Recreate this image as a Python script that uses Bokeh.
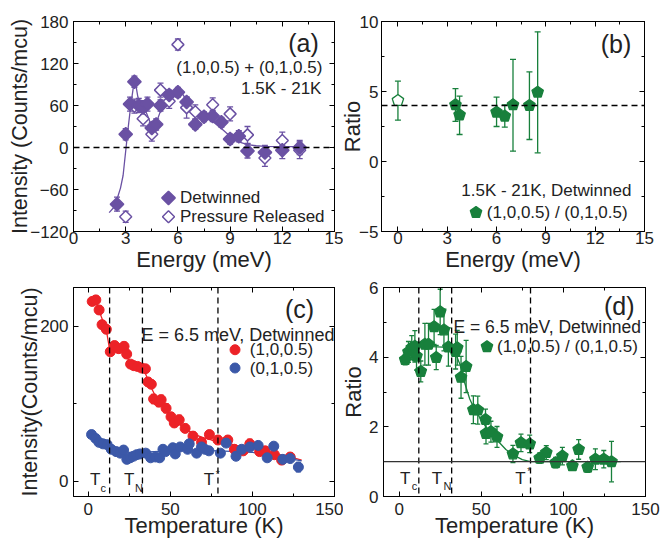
from bokeh.plotting import figure
from bokeh.models import (Range1d, LinearAxis, SingleIntervalTicker, FixedTicker,
                          Span, Label, ColumnDataSource)
from bokeh.layouts import row, column
from bokeh.embed import file_html
from bokeh.resources import INLINE

FONT = "Liberation Sans"
TXT = "#222222"
PURPLE = "#6a51a3"
RED = "#ec2227"
BLUE = "#3b58a8"
GREEN = "#18803c"
QUARTER = 0.7853982

# ---------------- data: panel (a) ----------------
det_E = [2.5, 3.0, 3.25, 3.5, 3.75, 4.0, 4.25, 4.5, 4.75, 5.0, 5.5, 6.0, 6.5, 7.0, 7.5, 8.0, 8.5, 9.0, 9.5, 10.0, 11.0, 12.0, 13.0]
det_I = [-81, 19, 62, 94, 60, 57, 62, 28, 33, 60, 75, 79, 65, 33, 44, 45, 36, 12, 16, -5, -7, -4, 0]
det_err = [10, 8, 10, 8, 10, 10, 10, 8, 8, 8, 7, 7, 7, 7, 7, 8, 7, 7, 8, 10, 10, 12, 10]
pr_E = [3.0, 3.5, 4.0, 4.5, 5.0, 5.5, 6.0, 6.5, 7.0, 8.0, 9.0, 10.0, 11.0, 12.0, 13.0]
pr_I = [-99, 59, 41, 19, 82, 66, 147, 57, 51, 61, 48, 18, -15, 10, -4]
pr_err = [8, 10, 10, 10, 10, 10, 8, 15, 10, 10, 10, 12, 12, 12, 12]
fit_a_E = [2.05, 2.3, 2.5, 2.7, 2.85, 3.0, 3.15, 3.3, 3.45, 3.55, 3.7, 3.9, 4.1, 4.3, 4.5, 4.75, 5.0, 5.25, 5.5, 5.75, 6.0, 6.25, 6.5, 6.75, 7.0, 7.5, 8.0, 8.5, 9.0, 9.5, 10.0, 10.5, 11.0, 12.0, 13.0]
fit_a_I = [-93, -86, -74, -58, -40, -5, 30, 62, 88, 94, 72, 60, 55, 43, 30, 35, 52, 66, 75, 79, 80, 77, 68, 58, 50, 43, 37, 27, 16, 8, 4, 2.5, 1.5, 1.2, 1.2]

# ---------------- data: panel (b) ----------------
rat_E = [3.5, 3.75, 6.0, 6.5, 7.0, 8.0, 8.5]
rat_R = [4.05, 3.33, 3.52, 3.24, 4.05, 4.0, 4.95]
rat_lo = [2.86, 1.93, 2.5, 2.45, 0.74, 1.57, 0.62]
rat_hi = [5.2, 4.67, 4.6, 4.05, 7.29, 6.4, 9.26]
pr_rat_E = [0.0]
pr_rat_R = [4.36]
pr_rat_lo = [2.95]
pr_rat_hi = [5.74]
ratio_ref = 4.0

# ---------------- data: panel (c) ----------------
red_T = [2.4, 4.6, 6.6, 8.4, 11.0, 13.4, 16.0, 18.6, 21.8, 23.4, 25.8, 27.8, 30.0, 32.4, 34.8, 36.4, 38.4, 39.8, 43.0, 44.4, 47.4, 50.4, 52.4, 55.4, 59.0, 63.8, 69.0, 73.8, 79.0, 85.0, 89.0, 94.4, 98.4, 104.4, 107.8, 113.4, 117.8, 123.0]
red_I = [232, 234, 221, 202, 196, 167, 175, 171, 174, 164, 151, 149, 148, 146, 145, 128, 125, 106, 102, 105, 94, 83, 75, 79, 68, 58, 50, 60, 53, 53, 41, 39, 48, 38, 39, 34, 27, 31]
red_err = [5, 5, 5, 5, 5, 5, 5, 5, 5, 5, 4, 4, 4, 4, 4, 5, 5, 6, 6, 6, 6, 5, 5, 6, 5, 5, 6, 5, 5, 5, 5, 5, 6, 5, 5, 5, 5, 5]
blue_T = [2, 4.5, 6.5, 9, 11.5, 14, 17, 19.5, 21.5, 23.5, 25.5, 27.5, 29.5, 31.5, 35, 38, 41, 43.5, 45.5, 47, 51.5, 53, 56, 60.5, 61.5, 66, 69, 71, 73.5, 80.5, 84, 90, 93.5, 98.5, 103.5, 109, 113, 118.5, 123, 128]
blue_I = [60, 55, 50, 48, 47, 41, 38, 36, 40, 28, 30, 32, 34, 35, 36, 30, 31, 30, 41, 38, 43, 35, 44, 41, 48, 36, 44, 41, 39, 36, 49, 32, 41, 44, 46, 30, 45, 28, 29, 18]
blue_err = [4] * 39 + [6]
fit_red_T = [2, 5, 8, 11, 13, 16, 20, 24, 28, 32, 35, 38, 42, 46, 50, 55, 60, 65, 70, 75, 80, 85, 90, 95, 100, 105, 110, 115, 120, 125, 130]
fit_red_I = [234, 230, 212, 195, 170, 174, 170, 158, 150, 146, 138, 122, 105, 95, 84, 74, 66, 60, 56, 53, 51, 49, 46, 44, 42, 40, 37, 35, 32, 30, 27]
fit_blue_T = [2, 6, 10, 15, 20, 25, 30, 40, 60, 80, 100, 110, 120, 130]
fit_blue_I = [58, 52, 47, 42, 39, 37, 37, 38, 40, 39, 37, 34, 30, 26]

# ---------------- data: panel (d) ----------------
d_T = [3.7, 5.7, 7.7, 9.6, 10.6, 13.2, 15.7, 17.9, 21.3, 22.6, 25.0, 27.3, 30.0, 34.4, 35.4, 37.7, 40.8, 45.2, 47.9, 52.6, 52.9, 55.9, 59.6, 69.3, 74.2, 79.5, 85.6, 89.6, 95.3, 99.4, 105.5, 109.3, 114.8, 119.5, 124.6, 129.3]
d_R = [3.93, 4.15, 4.27, 4.31, 4.03, 3.59, 4.37, 4.37, 4.87, 3.99, 5.30, 4.78, 4.29, 4.16, 4.27, 3.42, 3.73, 2.49, 2.48, 2.21, 1.81, 1.86, 1.71, 1.22, 1.54, 1.51, 1.10, 1.26, 0.97, 1.16, 0.88, 1.35, 0.84, 1.07, 1.07, 1.00]
d_err = [0.15, 0.3, 0.35, 0.45, 0.4, 0.3, 0.6, 0.6, 0.5, 0.35, 0.65, 0.6, 0.55, 0.5, 0.5, 0.6, 0.75, 0.4, 0.4, 0.3, 0.3, 0.3, 0.3, 0.25, 0.25, 0.25, 0.15, 0.2, 0.15, 0.25, 0.12, 0.28, 0.15, 0.3, 0.25, 0.58]
fit_d_T = [4, 10, 20, 30, 34, 37, 40, 43, 46, 50, 55, 60, 65, 70, 75, 80, 90, 100, 135]
fit_d_R = [4.28, 4.3, 4.3, 4.28, 4.15, 3.8, 3.25, 2.8, 2.5, 2.2, 1.85, 1.6, 1.35, 1.18, 1.06, 1.0, 1.0, 1.0, 1.0]
ratio_one = 1.0

# characteristic temperatures (K) as drawn in (c) and (d)
T_c_lines = [13, 33, 79]
T_d_lines = [12, 32, 80]


def style_axis(ax):
    ax.major_tick_in = 5
    ax.major_tick_out = 0
    ax.minor_tick_in = 3
    ax.minor_tick_out = 0
    ax.axis_line_color = "black"
    ax.major_tick_line_color = "black"
    ax.minor_tick_line_color = "black"
    ax.major_label_text_font = FONT
    ax.major_label_text_font_size = "17px"
    ax.major_label_text_color = TXT
    ax.axis_label_text_font = FONT
    ax.axis_label_text_font_size = "22px"
    ax.axis_label_text_font_style = "normal"
    ax.axis_label_text_color = TXT


def make_panel(w, h, xr, yr, borders, xtick, ytick, xlabel, ylabel,
               xstand, ystand, xlstand, ylstand, ylsize="22px"):
    bl, br, bt, bb = borders
    p = figure(width=w, height=h, x_range=Range1d(*xr), y_range=Range1d(*yr),
               output_backend="svg", toolbar_location=None,
               min_border_left=bl, min_border_right=br,
               min_border_top=bt, min_border_bottom=bb)
    p.xgrid.visible = False
    p.ygrid.visible = False
    p.outline_line_color = "black"
    p.outline_line_width = 1
    p.background_fill_color = "white"
    p.border_fill_color = None
    xa = p.xaxis[0]
    ya = p.yaxis[0]
    xa.ticker = xtick
    ya.ticker = ytick
    style_axis(xa)
    style_axis(ya)
    xa.axis_label = xlabel
    ya.axis_label = ylabel
    ya.axis_label_text_font_size = ylsize
    xa.major_label_standoff = xstand
    ya.major_label_standoff = ystand
    xa.axis_label_standoff = xlstand
    ya.axis_label_standoff = ylstand
    top = LinearAxis(ticker=xtick)
    right = LinearAxis(ticker=ytick)
    for ax in (top, right):
        style_axis(ax)
        ax.major_label_text_font_size = "1px"
        ax.major_label_text_color = None
        ax.major_label_standoff = 0
    p.add_layout(top, "above")
    p.add_layout(right, "right")
    return p


def errbars(p, x, lo, hi, color, cap=6, width=1.3):
    src = ColumnDataSource(dict(x=x, lo=lo, hi=hi))
    p.segment(x0="x", y0="lo", x1="x", y1="hi", source=src,
              line_color=color, line_width=width)
    p.scatter(x="x", y="lo", source=src, marker="dash", size=cap,
              line_color=color, line_width=width)
    p.scatter(x="x", y="hi", source=src, marker="dash", size=cap,
              line_color=color, line_width=width)


def pentagons(p, x, y, color, fill, r=6):
    src = ColumnDataSource(dict(x=x, y=y))
    try:
        p.ngon(x="x", y="y", radius=r, radius_units="screen", n=5,
               angle=0.0, source=src, fill_color=fill,
               line_color=color, line_width=1.3)
    except Exception:
        p.scatter(x="x", y="y", source=src, marker="hex", size=2 * r,
                  fill_color=fill, line_color=color, line_width=1.3)


def text(p, x, y, s, size="17px", align="left", baseline="middle"):
    p.add_layout(Label(x=x, y=y, text=s, text_font=FONT, text_font_size=size,
                       text_color=TXT, text_align=align,
                       text_baseline=baseline))


def diamonds(p, x, y, fill, size=9.5):
    p.scatter(x, y, marker="square", angle=QUARTER, size=size,
              fill_color=fill, line_color=PURPLE, line_width=1.5)


# ================= panel (a) =================
pa = make_panel(343, 275, (0, 15), (-120, 180), (73, 9, 21, 44),
                SingleIntervalTicker(interval=3, num_minor_ticks=2),
                SingleIntervalTicker(interval=60, num_minor_ticks=2),
                "Energy (meV)", "Intensity (Counts/mcu)", 0, 5, 0, -5, "21.5px")
pa.border_fill_color = "white"
pa.add_layout(Span(location=0, dimension="width", line_color="black",
                   line_width=1.3, line_dash="6 4"))
pa.line(fit_a_E, fit_a_I, line_color=PURPLE, line_width=1.3)
errbars(pa, det_E, [v - e for v, e in zip(det_I, det_err)],
        [v + e for v, e in zip(det_I, det_err)], PURPLE)
errbars(pa, pr_E, [v - e for v, e in zip(pr_I, pr_err)],
        [v + e for v, e in zip(pr_I, pr_err)], PURPLE)
diamonds(pa, pr_E, pr_I, "white", 8.5)
diamonds(pa, det_E, det_I, PURPLE)
diamonds(pa, [5.46], [-72], PURPLE)
diamonds(pa, [5.46], [-99], "white", 8.5)
text(pa, 6.12, -72, "Detwinned")
text(pa, 6.12, -99, "Pressure Released")
text(pa, 14.1, 150, "(a)", size="25px", align="right")
text(pa, 14.3, 114, "(1,0,0.5) + (0,1,0.5)", align="right")
text(pa, 14.25, 84, "1.5K - 21K", align="right")

# ================= panel (b) =================
# canvas overlaps (a) by 20 px (transparent border) so that the Ratio title
# can sit where the reference has it
pb = make_panel(339, 275, (-1, 15), (-5, 10), (58, 18, 21, 44),
                SingleIntervalTicker(interval=3, num_minor_ticks=2),
                SingleIntervalTicker(interval=5, num_minor_ticks=2),
                "Energy (meV)", "Ratio", 0, 3, 0, -9)
pb.margin = (0, 0, 0, -20)
pb.add_layout(Span(location=ratio_ref, dimension="width", line_color="black",
                   line_width=1.3, line_dash="6 4"))
errbars(pb, rat_E, rat_lo, rat_hi, GREEN)
errbars(pb, pr_rat_E, pr_rat_lo, pr_rat_hi, GREEN)
pentagons(pb, rat_E, rat_R, GREEN, GREEN)
pentagons(pb, pr_rat_E, pr_rat_R, GREEN, "white")
pentagons(pb, [4.75], [-3.64], GREEN, GREEN)
text(pb, 14.2, 8.4, "(b)", size="25px", align="right")
text(pb, 14.2, -2.1, "1.5K - 21K, Detwinned", align="right")
text(pb, 5.41, -3.64, "(1,0,0.5) / (0,1,0.5)")

# ================= panel (c) =================
pc = make_panel(343, 266, (-9, 150), (-20, 250), (73, 9, 10, 45),
                SingleIntervalTicker(interval=50, num_minor_ticks=2),
                FixedTicker(ticks=[0, 200], minor_ticks=[100]),
                "Temperature (K)", "Intensity(Counts/mcu)", 6, 5, -5, -5, "21.5px")
pc.border_fill_color = "white"
for t in T_c_lines:
    pc.add_layout(Span(location=t, dimension="height", line_color="black",
                       line_width=1.3, line_dash="6 4"))
pc.line(fit_red_T, fit_red_I, line_color=RED, line_width=1.3)
pc.line(fit_blue_T, fit_blue_I, line_color=BLUE, line_width=1.3)
errbars(pc, red_T, [v - e for v, e in zip(red_I, red_err)],
        [v + e for v, e in zip(red_I, red_err)], RED, cap=5)
errbars(pc, blue_T, [v - e for v, e in zip(blue_I, blue_err)],
        [v + e for v, e in zip(blue_I, blue_err)], BLUE, cap=5)
pc.scatter(red_T, red_I, marker="circle", size=10, fill_color=RED, line_color=RED)
pc.scatter(blue_T, blue_I, marker="circle", size=10, fill_color=BLUE, line_color=BLUE)
pc.scatter([89.4], [169.6], marker="circle", size=10, fill_color=RED, line_color=RED)
pc.scatter([89.4], [146], marker="circle", size=10, fill_color=BLUE, line_color=BLUE)
text(pc, 98.4, 169.6, "(1,0,0.5)")
text(pc, 98.4, 146, "(0,1,0.5)")
text(pc, 32.4, 188.5, "E = 6.5 meV, Detwinned", size="18px")
text(pc, 137.6, 222, "(c)", size="25px", align="right")
text(pc, 1.0, 2.2, "T")
text(pc, 7.4, -8.5, "c", size="11px")
text(pc, 21.8, 2.2, "T")
text(pc, 28.4, -8.5, "N", size="11px")
text(pc, 70.4, 2.2, "T")
text(pc, 77.6, 9.0, "*", size="10px")

# ================= panel (d) =================
pd_ = make_panel(339, 266, (-9.5, 150), (0, 6), (60, 17, 12, 44),
                 SingleIntervalTicker(interval=50, num_minor_ticks=2),
                 SingleIntervalTicker(interval=2, num_minor_ticks=2),
                 "Temperature (K)", "Ratio", 6, 5, -5, 0)
pd_.margin = (0, 0, 0, -20)
for t in T_d_lines:
    pd_.add_layout(Span(location=t, dimension="height", line_color="black",
                        line_width=1.3, line_dash="6 4"))
pd_.add_layout(Span(location=ratio_one, dimension="width", line_color="#333333",
                    line_width=1.3))
pd_.line(fit_d_T, fit_d_R, line_color=GREEN, line_width=1.3)
errbars(pd_, d_T, [v - e for v, e in zip(d_R, d_err)],
        [v + e for v, e in zip(d_R, d_err)], GREEN, cap=5)
pentagons(pd_, d_T, d_R, GREEN, GREEN)
pentagons(pd_, [53.5], [4.3], GREEN, GREEN)
text(pd_, 59.6, 4.3, "(1,0,0.5) / (0,1,0.5)")
text(pd_, 33.1, 4.86, "E = 6.5 meV, Detwinned", size="17.5px")
text(pd_, 143.3, 5.48, "(d)", size="25px", align="right")
text(pd_, 0.6, 0.53, "T")
text(pd_, 7.7, 0.29, "c", size="11px")
text(pd_, 19.9, 0.53, "T")
text(pd_, 27.0, 0.29, "N", size="11px")
text(pd_, 70.7, 0.53, "T")
text(pd_, 78.0, 0.72, "*", size="10px")

layout = column(row(pa, pb), row(pc, pd_))
open("out.html", "w").write(file_html(layout, INLINE))
